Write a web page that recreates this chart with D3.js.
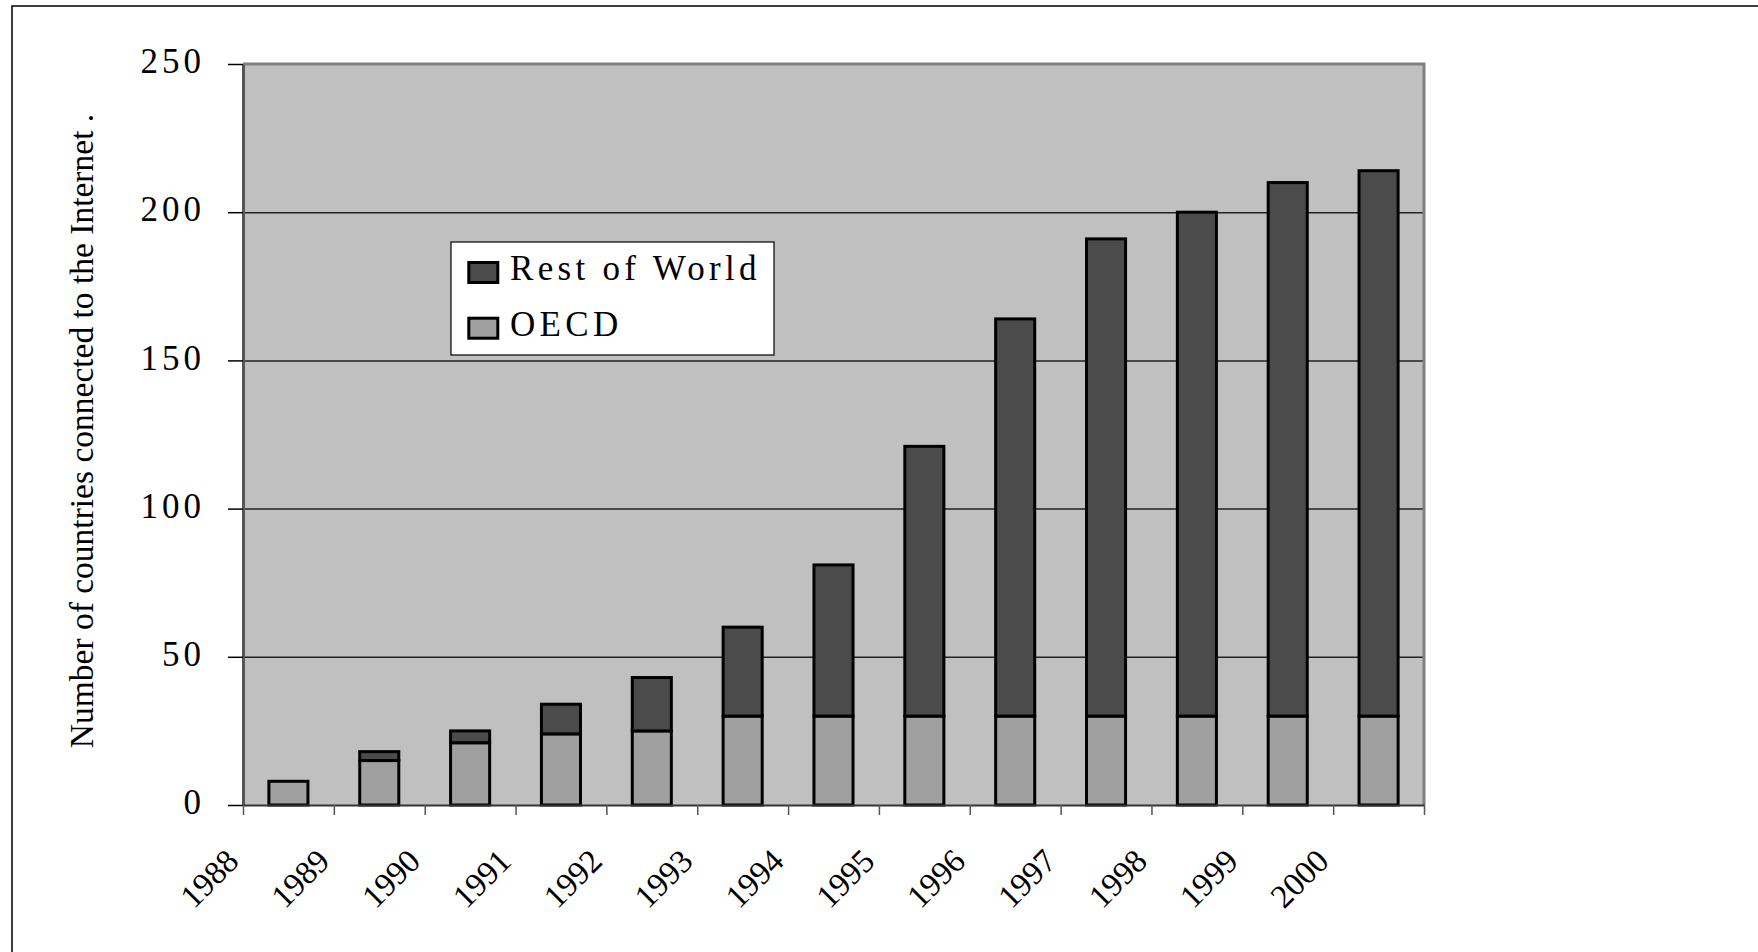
<!DOCTYPE html>
<html>
<head>
<meta charset="utf-8">
<script src="https://cdn.jsdelivr.net/npm/d3@7"></script>
<style>
  html, body { margin: 0; padding: 0; background: #fff; }
  svg { display: block; }
  text { font-family: "Liberation Serif", "Times New Roman", serif; fill: #000; }
</style>
</head>
<body>
<svg id="chart" width="1758" height="952"></svg>
<script>
// Countries connected to the Internet, by year
const years = [1988, 1989, 1990, 1991, 1992, 1993, 1994, 1995, 1996, 1997, 1998, 1999, 2000];
const oecd = [8, 15, 21, 24, 25, 30, 30, 30, 30, 30, 30, 30, 30];
const restOfWorld = [0, 3, 4, 10, 18, 30, 51, 91, 134, 161, 170, 180, 184];
const yTicks = [0, 50, 100, 150, 200, 250];
const seriesNames = ["Rest of World", "OECD"];
const seriesColors = { "Rest of World": "#4b4b4b", "OECD": "#a0a0a0" };
const yTitle = "Number of countries connected to the Internet .";

const svg = d3.select("#chart");
const plot = { left: 243, right: 1424, top: 64, bottom: 805 };
const plotW = plot.right - plot.left;

// outer frame of the figure
svg.append("rect")
  .attr("x", 12).attr("y", 6)
  .attr("width", 1800).attr("height", 1000)
  .attr("fill", "none").attr("stroke", "#000").attr("stroke-width", 1.5);

const y = d3.scaleLinear().domain([0, 250]).range([plot.bottom, plot.top]);
const x = d3.scaleBand().domain(years).range([plot.left, plot.right])
  .paddingInner(0.57).paddingOuter(0.285);
const xEdge = d3.scaleLinear().domain([0, years.length]).range([plot.left, plot.right]);

// plot area
svg.append("rect")
  .attr("x", plot.left).attr("y", plot.top)
  .attr("width", plotW).attr("height", plot.bottom - plot.top)
  .attr("fill", "#c0c0c0");

// horizontal gridlines
svg.append("g")
  .attr("transform", `translate(${plot.left},0)`)
  .call(d3.axisLeft(y).tickValues(yTicks.filter(v => v > 0 && v < 250)).tickSize(-plotW).tickFormat(""))
  .call(g => g.select(".domain").remove())
  .selectAll("line").attr("stroke", "#222").attr("stroke-width", 1.5);

// plot area border (top and right)
svg.append("path")
  .attr("d", `M${plot.left},${plot.top}H${plot.right}V${plot.bottom}`)
  .attr("fill", "none").attr("stroke", "#808080").attr("stroke-width", 3);

// stacked bars
const rows = years.map((yr, i) => ({ year: yr, OECD: oecd[i], "Rest of World": restOfWorld[i] }));
const stack = d3.stack().keys(["OECD", "Rest of World"])(rows);
const barG = svg.append("g");
stack.forEach(layer => {
  barG.selectAll(null)
    .data(layer.filter(d => d[1] > d[0]))
    .join("rect")
    .attr("x", d => x(d.data.year))
    .attr("width", x.bandwidth())
    .attr("y", d => y(d[1]))
    .attr("height", d => y(d[0]) - y(d[1]))
    .attr("fill", seriesColors[layer.key])
    .attr("stroke", "#000")
    .attr("stroke-width", 3);
});

// y axis
const yAxis = svg.append("g")
  .attr("transform", `translate(${plot.left},0)`)
  .call(d3.axisLeft(y).tickValues(yTicks).tickSize(15).tickSizeOuter(0).tickPadding(23));
yAxis.attr("font-family", null).attr("font-size", null);
yAxis.select(".domain").attr("stroke", "#555").attr("stroke-width", 3);
yAxis.selectAll(".tick line").attr("stroke", "#000").attr("stroke-width", 1.5);
yAxis.selectAll(".tick text")
  .style("font-size", "35px")
  .style("letter-spacing", "4px")
  .attr("dy", "0.25em");

// x axis: ticks on category boundaries, year labels at the left boundary
const xAxis = svg.append("g")
  .attr("transform", `translate(0,${plot.bottom})`)
  .call(d3.axisBottom(xEdge).tickValues(d3.range(years.length + 1)).tickSize(10).tickSizeOuter(0)
    .tickFormat(i => i < years.length ? String(years[i]) : ""));
xAxis.attr("font-family", null).attr("font-size", null);
xAxis.select(".domain").attr("stroke", "#333").attr("stroke-width", 2);
xAxis.selectAll(".tick line").attr("stroke", "#555").attr("stroke-width", 1.5);
xAxis.selectAll(".tick text")
  .attr("x", 0).attr("y", 0).attr("dy", null)
  .attr("text-anchor", "end")
  .attr("transform", "translate(-3,58) rotate(-45)")
  .style("font-size", "33px");

// y axis title
svg.append("text")
  .attr("transform", "translate(93,431) rotate(-90)")
  .attr("text-anchor", "middle")
  .style("font-size", "33.5px")
  .text(yTitle);

// legend
const legend = svg.append("g");
legend.append("rect")
  .attr("x", 451).attr("y", 242).attr("width", 323).attr("height", 113)
  .attr("fill", "#fff").attr("stroke", "#000").attr("stroke-width", 1.2);
seriesNames.forEach((name, i) => {
  const top = 262.5 + i * 55.7;
  legend.append("rect")
    .attr("x", 468.8).attr("y", top).attr("width", 29).attr("height", 20)
    .attr("fill", seriesColors[name]).attr("stroke", "#000").attr("stroke-width", 3);
  legend.append("text")
    .attr("x", 510).attr("y", top + 17.5)
    .style("font-size", "35px")
    .style("letter-spacing", "4.3px")
    .text(name);
});
</script>
</body>
</html>
